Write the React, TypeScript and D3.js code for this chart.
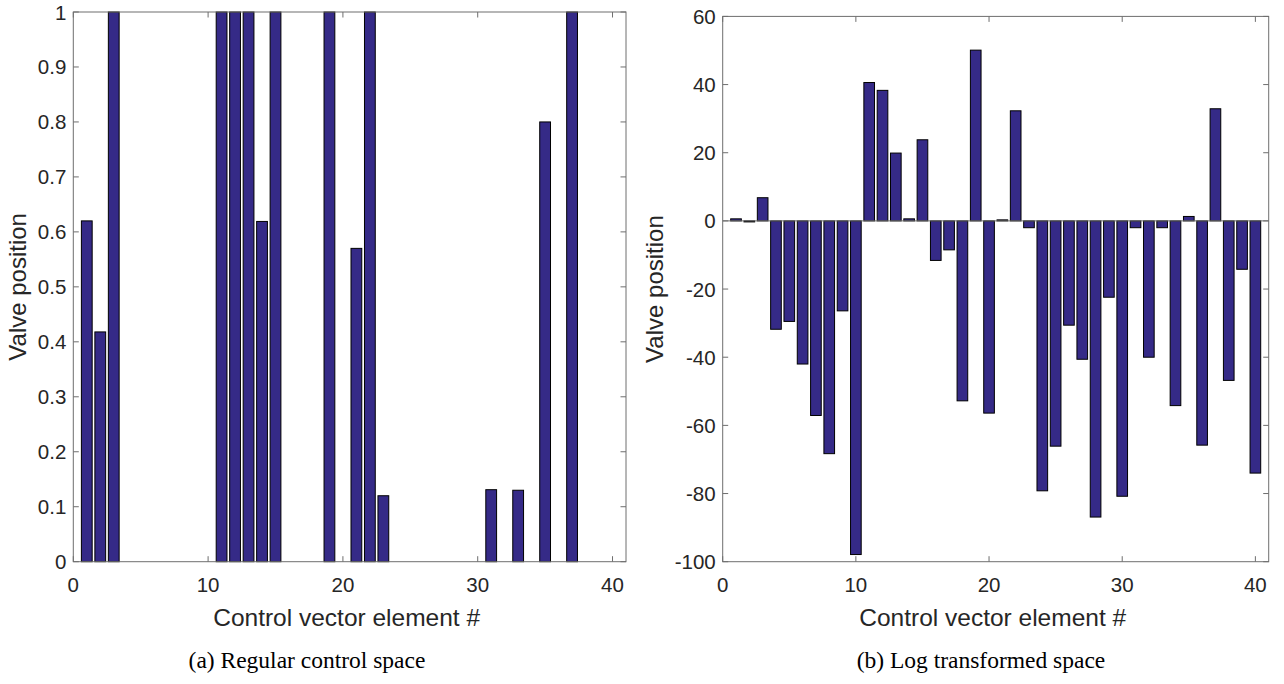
import React from "react";
import * as d3 from "d3";

const elements = d3.range(1, 41);
const regularValues = [
  0.62, 0.418, 1, 0, 0, 0, 0, 0, 0, 0,
  1, 1, 1, 0.619, 1, 0, 0, 0, 1, 0,
  0.57, 1, 0.12, 0, 0, 0, 0, 0, 0, 0,
  0.131, 0, 0.13, 0, 0.8, 0, 1, 0, 0, 0,
];
const logValues = [
  0.6, -0.3, 6.8, -31.8, -29.5, -42.0, -57.1, -68.3, -26.4, -97.9,
  40.6, 38.3, 19.9, 0.6, 23.8, -11.6, -8.5, -52.8, 50.1, -56.4,
  0.3, 32.3, -2.0, -79.2, -66.1, -30.6, -40.6, -86.9, -22.4, -80.8,
  -2.0, -40.0, -2.0, -54.2, 1.3, -65.8, 32.9, -46.8, -14.2, -74.0,
];
const xTicks = [0, 10, 20, 30, 40];
const regularYTicks = [0, 0.1, 0.2, 0.3, 0.4, 0.5, 0.6, 0.7, 0.8, 0.9, 1];
const logYTicks = [-100, -80, -60, -40, -20, 0, 20, 40, 60];
const xLabel = "Control vector element #";
const yLabel = "Valve position";
const captions = ["(a) Regular control space", "(b) Log transformed space"];

const BAR_FILL = "#352a87";
const AXIS_COLOR = "#262626";
const BOX_COLOR = "#6e6e6e";
const SANS = "'Liberation Sans', Arial, Helvetica, sans-serif";
const SERIF = "'Liberation Serif', 'DejaVu Serif', serif";

type PanelProps = {
  values: number[];
  yDomain: [number, number];
  yTicks: number[];
  fmt: (v: number) => string;
  left: number;
  right: number;
  top: number;
  bottom: number;
  yLabelX: number;
  caption: string;
  captionX: number;
  baseline: boolean;
};

function Panel(p: PanelProps) {
  const x = d3.scaleLinear().domain([0, 41]).range([p.left, p.right]);
  const y = d3.scaleLinear().domain(p.yDomain).range([p.bottom, p.top]);
  const bw = x(0.8) - x(0);
  const tl = 5.5;
  const midY = (p.top + p.bottom) / 2;
  const midX = (p.left + p.right) / 2;
  return (
    <g>
      {p.values.map((v, i) => {
        const cx = x(elements[i]);
        const y0 = y(0);
        const y1 = y(v);
        return (
          <rect
            key={i}
            x={cx - bw / 2}
            y={Math.min(y0, y1)}
            width={bw}
            height={Math.abs(y1 - y0)}
            fill={BAR_FILL}
            stroke="#000"
            strokeWidth={1}
          />
        );
      })}
      {p.baseline && (
        <line x1={p.left} x2={p.right} y1={y(0)} y2={y(0)} stroke={BOX_COLOR} strokeWidth={1} />
      )}
      <rect
        x={p.left}
        y={p.top}
        width={p.right - p.left}
        height={p.bottom - p.top}
        fill="none"
        stroke={BOX_COLOR}
        strokeWidth={1}
      />
      {xTicks.map((t) => (
        <g key={"x" + t}>
          <line x1={x(t)} x2={x(t)} y1={p.bottom} y2={p.bottom - tl} stroke={BOX_COLOR} />
          <line x1={x(t)} x2={x(t)} y1={p.top} y2={p.top + tl} stroke={BOX_COLOR} />
          <text
            x={x(t)}
            y={p.bottom + 30}
            textAnchor="middle"
            fontFamily={SANS}
            fontSize={20.5}
            fill={AXIS_COLOR}
          >
            {t}
          </text>
        </g>
      ))}
      {p.yTicks.map((t) => (
        <g key={"y" + t}>
          <line x1={p.left} x2={p.left + tl} y1={y(t)} y2={y(t)} stroke={BOX_COLOR} />
          <line x1={p.right} x2={p.right - tl} y1={y(t)} y2={y(t)} stroke={BOX_COLOR} />
          <text
            x={p.left - 7}
            y={y(t) + 7.5}
            textAnchor="end"
            fontFamily={SANS}
            fontSize={20.5}
            fill={AXIS_COLOR}
          >
            {p.fmt(t)}
          </text>
        </g>
      ))}
      <text
        x={midX - 3}
        y={626}
        textAnchor="middle"
        fontFamily={SANS}
        fontSize={24.5}
        fill={AXIS_COLOR}
      >
        {xLabel}
      </text>
      <text
        transform={`translate(${p.yLabelX},${midY}) rotate(-90)`}
        textAnchor="middle"
        fontFamily={SANS}
        fontSize={24}
        fill={AXIS_COLOR}
      >
        {yLabel}
      </text>
      <text
        x={p.captionX}
        y={668}
        textAnchor="middle"
        fontFamily={SERIF}
        fontSize={23.5}
        fill="#000"
      >
        {p.caption}
      </text>
    </g>
  );
}

export default function App() {
  return (
    <svg
      width={1284}
      height={684}
      style={{ position: "absolute", left: 0, top: 0, background: "#fff" }}
    >
      <rect x={0} y={0} width={1284} height={684} fill="#fff" />
      <Panel
        values={regularValues}
        yDomain={[0, 1]}
        yTicks={regularYTicks}
        fmt={(v) => (v === 0 || v === 1 ? String(v) : d3.format(".1f")(v))}
        left={73.3}
        right={626}
        top={12}
        bottom={561.7}
        yLabelX={26}
        caption={captions[0]}
        captionX={307}
        baseline={false}
      />
      <Panel
        values={logValues}
        yDomain={[-100, 60]}
        yTicks={logYTicks}
        fmt={(v) => String(v)}
        left={722.7}
        right={1268.7}
        top={16.4}
        bottom={561.7}
        yLabelX={663}
        caption={captions[1]}
        captionX={981}
        baseline={true}
      />
    </svg>
  );
}
